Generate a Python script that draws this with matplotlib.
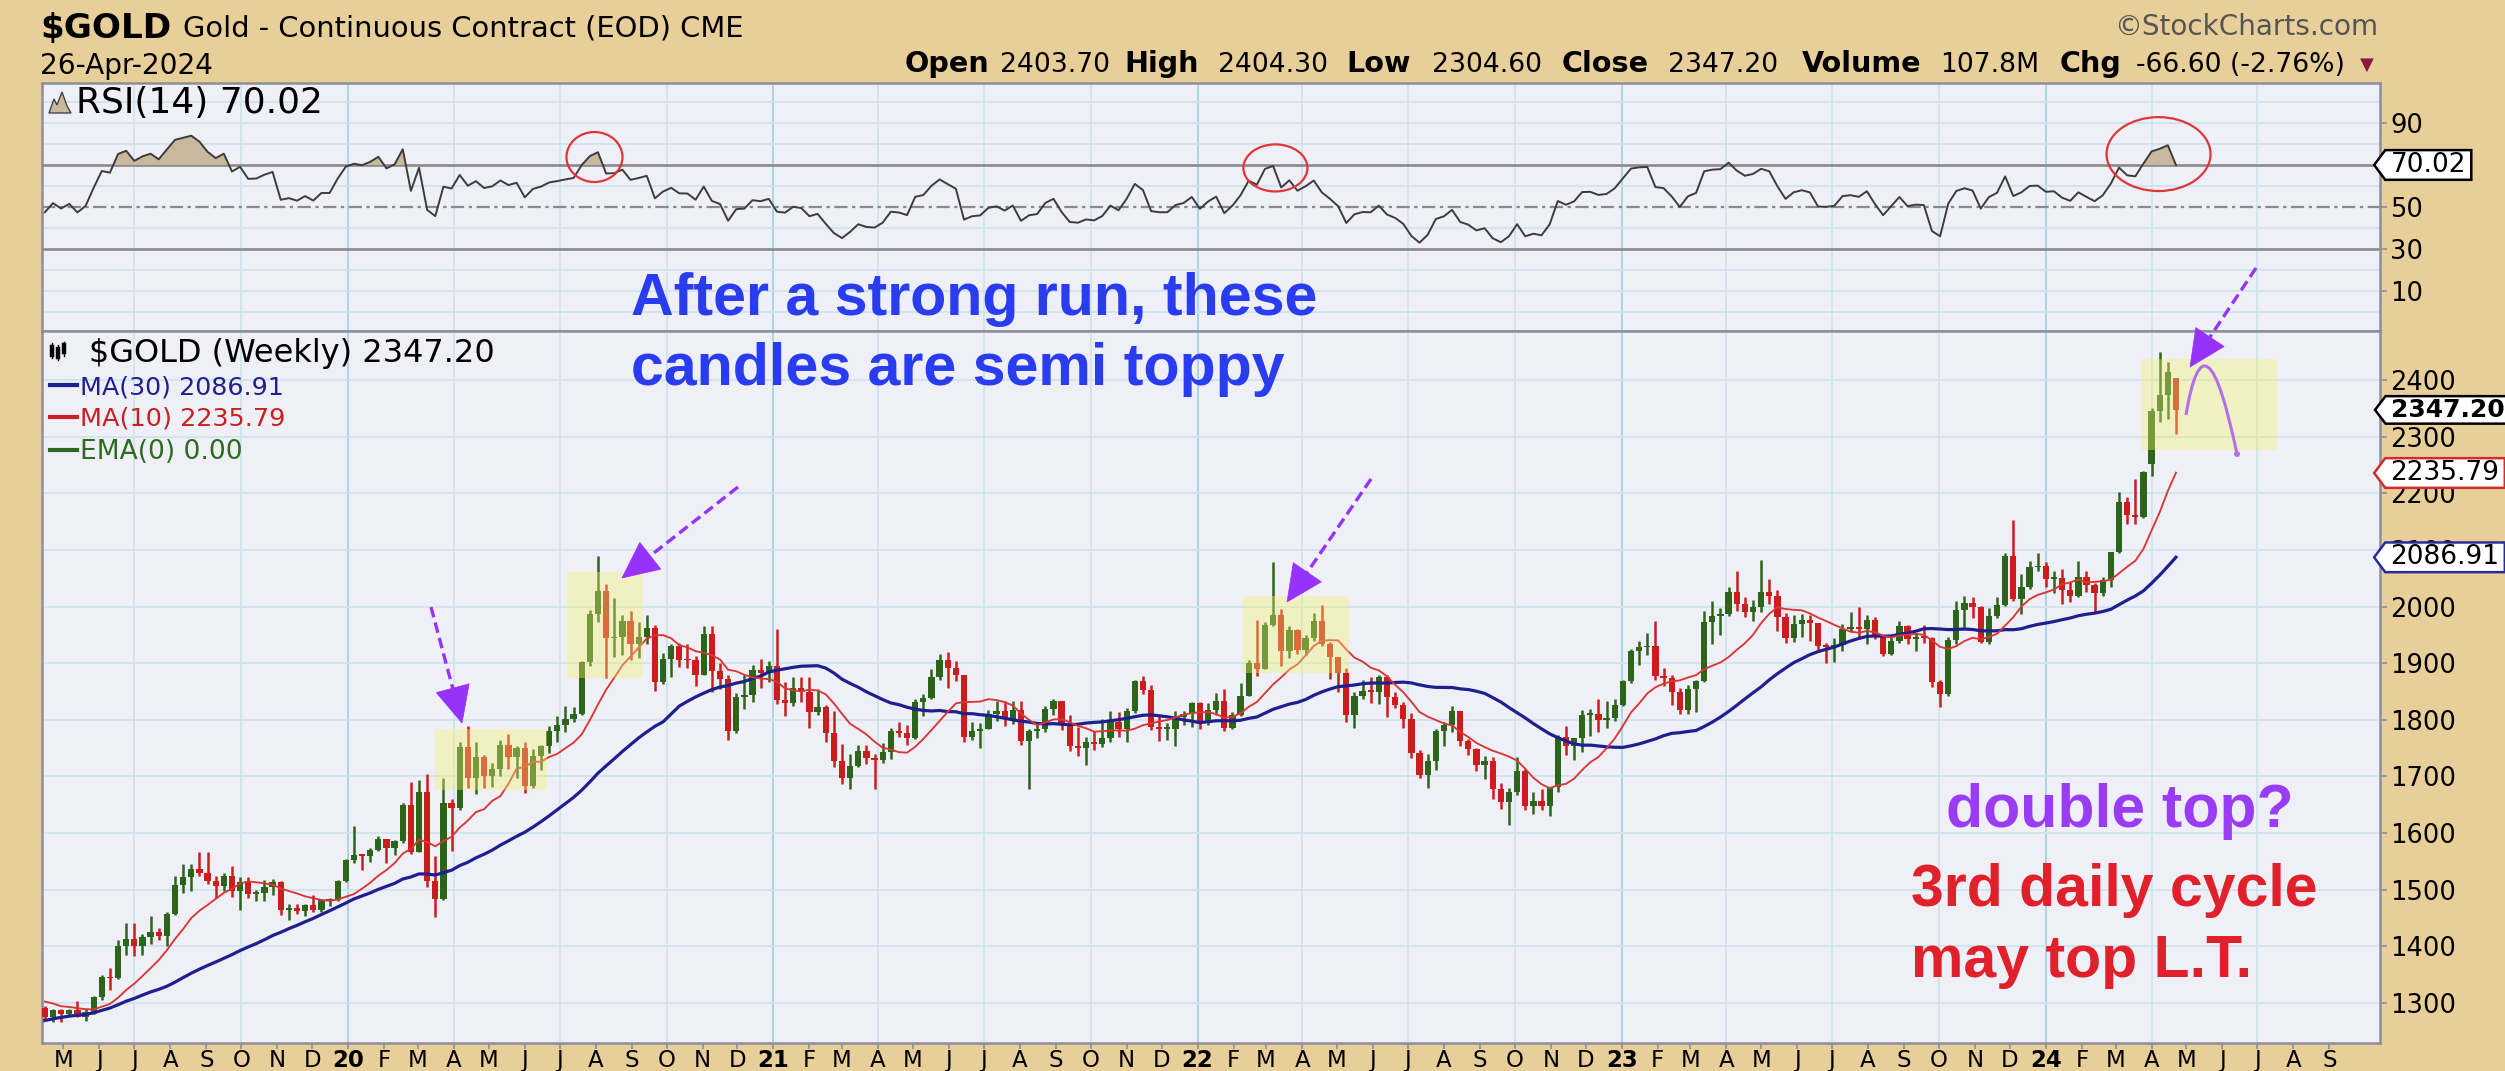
import numpy as np
import pandas as pd
import matplotlib
matplotlib.use("Agg")
import matplotlib.pyplot as plt
import matplotlib.dates as mdates
from matplotlib.patches import Rectangle, Ellipse, Polygon, PathPatch
from matplotlib.path import Path
from matplotlib.lines import Line2D

# ======================= DATA =======================
first_week = "2019-04-15"          # Monday of the first weekly bar
# closes of the 51 weeks before the first visible bar (only used to seed MA / RSI)
warmup_closes = [1323, 1315, 1320, 1291, 1303, 1298, 1302, 1278, 1270, 1254,
                 1255, 1241, 1231, 1223, 1219, 1219, 1184, 1213, 1206, 1200,
                 1201, 1201, 1196, 1207, 1222, 1229, 1236, 1234, 1210, 1223,
                 1224, 1226, 1252, 1241, 1258, 1283, 1294, 1290, 1282, 1304,
                 1318, 1318, 1322, 1330, 1299, 1298, 1302, 1315, 1298, 1295, 1291]

opens = [
    # 2019
    1291, 1276, 1288, 1281, 1287, 1276, 1284, 1311, 1346, 1344, 1400, 1413, 1400, 1416, 1426,
    1419, 1457, 1509, 1523, 1537, 1529, 1515, 1506, 1524, 1497, 1513, 1493, 1494, 1505, 1513,
    1464, 1468, 1463, 1473, 1465, 1481, 1481,
    # 2020
    1515, 1552, 1562, 1560, 1571, 1589, 1573, 1586, 1649, 1566, 1672, 1516, 1484, 1654, 1645,
    1752, 1698, 1735, 1700, 1713, 1756, 1735, 1751, 1683, 1737, 1753, 1781, 1790, 1801, 1810,
    1902, 1986, 2028, 1944, 1947, 1975, 1934, 1947, 1962, 1866, 1907, 1930, 1906, 1905, 1879,
    1951, 1887, 1872, 1781, 1840, 1843, 1888, 1883,
    # 2021
    1895, 1835, 1830, 1856, 1850, 1814, 1823, 1777, 1728, 1698, 1719, 1745, 1732, 1729, 1744,
    1780, 1777, 1768, 1831, 1838, 1876, 1905, 1892, 1879, 1769, 1781, 1784, 1810, 1815, 1801,
    1817, 1763, 1780, 1784, 1819, 1833, 1791, 1754, 1751, 1760, 1757, 1768, 1796, 1783, 1816,
    1868, 1852, 1788, 1784, 1784, 1805, 1811,
    # 2022
    1829, 1797, 1818, 1833, 1786, 1808, 1842, 1900, 1889, 1967, 1985, 1921, 1958, 1923, 1945,
    1974, 1934, 1911, 1883, 1808, 1842, 1851, 1850, 1875, 1840, 1826, 1801, 1742, 1703, 1727,
    1781, 1791, 1815, 1762, 1749, 1721, 1728, 1677, 1655, 1672, 1709, 1648, 1656, 1648, 1681,
    1769, 1754, 1768, 1809, 1810, 1800, 1804,
    # 2023
    1826, 1869, 1921, 1928, 1930, 1877, 1874, 1850, 1817, 1855, 1868, 1973, 1983, 1986, 2025,
    2004, 1990, 1999, 2025, 2019, 1981, 1944, 1969, 1977, 1971, 1930, 1929, 1932, 1961, 1964,
    1960, 1976, 1946, 1916, 1940, 1966, 1942, 1946, 1945, 1866, 1845, 1941, 1994, 2006, 1999,
    1937, 1984, 2003, 2089, 2014, 2034, 2069,
    # 2024
    2071, 2049, 2051, 2029, 2018, 2053, 2038, 2024, 2046, 2096, 2185, 2161, 2158, 2252, 2345,
    2374, 2403.7]

highs = [
    1295, 1290, 1290, 1290, 1304, 1289, 1312, 1349, 1361, 1411, 1442, 1442, 1421, 1453, 1433,
    1460, 1525, 1546, 1546, 1566, 1566, 1524, 1529, 1542, 1522, 1523, 1499, 1517, 1519, 1515,
    1475, 1475, 1475, 1490, 1484, 1486, 1518,
    1555, 1613, 1563, 1574, 1594, 1590, 1587, 1653, 1691, 1694, 1704, 1560, 1698, 1660, 1760,
    1789, 1760, 1738, 1723, 1765, 1775, 1754, 1760, 1748, 1756, 1789, 1807, 1825, 1822, 1904,
    1994, 2089, 2039, 2015, 1985, 1992, 1972, 1985, 1967, 1918, 1933, 1936, 1934, 1913, 1965,
    1966, 1900, 1880, 1848, 1880, 1897, 1907, 1903,
    1960, 1866, 1875, 1875, 1876, 1855, 1827, 1816, 1757, 1740, 1756, 1755, 1740, 1759, 1785,
    1797, 1790, 1837, 1846, 1890, 1916, 1919, 1903, 1879, 1796, 1795, 1818, 1834, 1833, 1833,
    1834, 1783, 1795, 1824, 1836, 1834, 1809, 1788, 1770, 1781, 1801, 1815, 1813, 1821, 1870,
    1877, 1862, 1809, 1794, 1815, 1815, 1831,
    1831, 1830, 1848, 1854, 1813, 1865, 1905, 1976, 1972, 2078, 1995, 1966, 1960, 1950, 1988,
    2003, 1938, 1911, 1892, 1850, 1870, 1876, 1879, 1880, 1849, 1832, 1812, 1747, 1739, 1784,
    1796, 1824, 1815, 1767, 1751, 1736, 1735, 1689, 1680, 1735, 1714, 1672, 1677, 1682, 1774,
    1789, 1768, 1818, 1819, 1836, 1833, 1837,
    1871, 1925, 1939, 1953, 1975, 1892, 1879, 1856, 1861, 1870, 1993, 2010, 1998, 2035, 2063,
    2016, 2011, 2082, 2048, 2029, 1989, 1985, 1986, 1985, 1971, 1935, 1945, 1970, 1990, 2000,
    1985, 1981, 1950, 1950, 1975, 1968, 1953, 1968, 1947, 1871, 1946, 2009, 2019, 2016, 2001,
    1997, 2017, 2095, 2152, 2057, 2080, 2094,
    2079, 2063, 2067, 2043, 2080, 2062, 2042, 2053, 2097, 2203, 2193, 2225, 2240, 2350, 2449,
    2431, 2404.3]

lows = [
    1272, 1266, 1267, 1278, 1275, 1269, 1280, 1305, 1323, 1342, 1385, 1383, 1385, 1405, 1412,
    1400, 1455, 1494, 1497, 1525, 1510, 1485, 1497, 1488, 1465, 1485, 1480, 1480, 1490, 1456,
    1446, 1458, 1454, 1460, 1460, 1472, 1480,
    1514, 1547, 1535, 1549, 1568, 1548, 1562, 1583, 1563, 1566, 1505, 1451, 1482, 1568, 1640,
    1680, 1669, 1680, 1682, 1701, 1714, 1698, 1671, 1680, 1711, 1741, 1761, 1779, 1796, 1808,
    1895, 1972, 1874, 1911, 1915, 1906, 1910, 1933, 1851, 1864, 1875, 1893, 1891, 1860, 1879,
    1850, 1855, 1764, 1777, 1819, 1832, 1856, 1866,
    1828, 1806, 1825, 1832, 1785, 1808, 1760, 1717, 1687, 1677, 1717, 1722, 1678, 1724, 1731,
    1770, 1756, 1766, 1807, 1836, 1870, 1856, 1869, 1761, 1765, 1751, 1783, 1798, 1789, 1792,
    1756, 1677, 1768, 1779, 1808, 1782, 1745, 1737, 1721, 1746, 1752, 1760, 1770, 1760, 1812,
    1845, 1782, 1762, 1765, 1753, 1790, 1788,
    1783, 1790, 1808, 1780, 1784, 1806, 1842, 1878, 1889, 1965, 1895, 1910, 1917, 1915, 1939,
    1931, 1872, 1850, 1797, 1786, 1836, 1829, 1828, 1805, 1820, 1785, 1732, 1697, 1680, 1711,
    1754, 1778, 1753, 1738, 1709, 1696, 1660, 1643, 1615, 1667, 1641, 1634, 1640, 1631, 1673,
    1738, 1729, 1744, 1771, 1778, 1785, 1798,
    1825, 1865, 1896, 1914, 1870, 1860, 1827, 1810, 1811, 1813, 1866, 1934, 1949, 1983, 1992,
    1981, 1975, 1990, 2005, 1956, 1936, 1938, 1946, 1939, 1919, 1900, 1902, 1922, 1955, 1943,
    1933, 1942, 1913, 1914, 1936, 1934, 1922, 1935, 1858, 1823, 1842, 1933, 1961, 1980, 1936,
    1933, 1979, 2001, 2010, 1987, 2031, 2062,
    2034, 2024, 2004, 2008, 2017, 2026, 1988, 2019, 2035, 2094, 2145, 2146, 2156, 2230, 2325,
    2331, 2304.6]

closes = [
    1276, 1288, 1281, 1287, 1276, 1284, 1311, 1346, 1344, 1400, 1413, 1400, 1416, 1426, 1419,
    1457, 1509, 1523, 1537, 1529, 1515, 1506, 1524, 1497, 1513, 1493, 1494, 1505, 1513, 1464,
    1468, 1463, 1473, 1465, 1481, 1481, 1515,
    1552, 1562, 1560, 1571, 1589, 1573, 1586, 1649, 1566, 1672, 1516, 1484, 1654, 1645, 1752,
    1698, 1735, 1700, 1713, 1756, 1735, 1751, 1683, 1737, 1753, 1781, 1790, 1801, 1810, 1902,
    1986, 2028, 1944, 1947, 1975, 1934, 1947, 1962, 1866, 1907, 1930, 1906, 1905, 1879, 1951,
    1887, 1872, 1781, 1840, 1843, 1888, 1883, 1895,
    1835, 1830, 1856, 1850, 1814, 1823, 1777, 1728, 1698, 1719, 1745, 1732, 1729, 1744, 1780,
    1777, 1768, 1831, 1838, 1876, 1905, 1892, 1879, 1769, 1781, 1784, 1810, 1815, 1801, 1817,
    1763, 1780, 1784, 1819, 1833, 1791, 1754, 1751, 1760, 1757, 1768, 1796, 1783, 1816, 1868,
    1852, 1788, 1784, 1784, 1805, 1811, 1829,
    1797, 1818, 1833, 1786, 1808, 1842, 1900, 1889, 1967, 1985, 1921, 1958, 1923, 1945, 1974,
    1934, 1911, 1883, 1808, 1842, 1851, 1850, 1875, 1840, 1826, 1801, 1742, 1703, 1727, 1781,
    1791, 1815, 1762, 1749, 1721, 1728, 1677, 1655, 1672, 1709, 1648, 1656, 1648, 1681, 1769,
    1754, 1768, 1809, 1810, 1800, 1804, 1826,
    1869, 1921, 1928, 1930, 1877, 1874, 1850, 1817, 1855, 1868, 1973, 1983, 1986, 2025, 2004,
    1990, 1999, 2025, 2019, 1981, 1944, 1969, 1977, 1971, 1930, 1929, 1932, 1961, 1964, 1960,
    1976, 1946, 1916, 1940, 1966, 1942, 1946, 1945, 1866, 1845, 1941, 1994, 2006, 1999, 1937,
    1984, 2003, 2089, 2014, 2034, 2069, 2071,
    2049, 2051, 2029, 2018, 2053, 2038, 2024, 2046, 2096, 2185, 2161, 2158, 2238, 2345, 2374,
    2413.8, 2347.2]

volume_text = "107.8M"
ma_long, ma_short, rsi_period = 30, 10, 14
ma_long_label, ma_short_label, rsi_label = "2086.91", "2235.79", "70.02"
price_ticks = [1300, 1400, 1500, 1600, 1700, 1800, 1900, 2000, 2100, 2200, 2300, 2400]
rsi_ticks = [10, 30, 50, 70, 90]
month_letters = ["J", "F", "M", "A", "M", "J", "J", "A", "S", "O", "N", "D"]

# ======================= STYLE =======================
W, H = 2505, 1071
BG = "#E8CF99"; PANEL = "#EFF0F7"; GRID = "#CDE4EE"; GRID_YR = "#A8D0E4"; SPINE = "#8E8E98"
GREEN = "#2C6419"; RED = "#CC1D1D"; NAVY = "#1F1F8F"; MARED = "#D93636"; EMAGREEN = "#2E6B1E"
PURPLE = "#9632FA"; CIRCLE = "#E0363A"

fig = plt.figure(figsize=(W / 100, H / 100), dpi=100, facecolor=BG)
renderer = fig.canvas.get_renderer()
L_, R_ = 42, 2380
ax_r = fig.add_axes([L_ / W, 1 - 331 / H, (R_ - L_) / W, (331 - 83) / H])
ax = fig.add_axes([L_ / W, 1 - 1043 / H, (R_ - L_) / W, (1043 - 331) / H])

# ======================= INDICATORS =======================
dates = pd.date_range(first_week, periods=len(closes), freq="W-MON")
x = mdates.date2num(dates)
o, h, l, c = (np.asarray(v, float) for v in (opens, highs, lows, closes))
allc = pd.Series(list(warmup_closes) + list(closes), dtype=float)
n0 = len(warmup_closes)
ma30 = allc.rolling(ma_long).mean().to_numpy()[n0:]
ma10 = allc.rolling(ma_short).mean().to_numpy()[n0:]
dlt = allc.diff().fillna(0.0)
gain = dlt.clip(lower=0).ewm(alpha=1 / rsi_period, adjust=False).mean()
loss = (-dlt.clip(upper=0)).ewm(alpha=1 / rsi_period, adjust=False).mean()
rsi = (100 - 100 / (1 + gain / loss)).to_numpy()[n0:]

# ======================= AXES =======================
xl = (mdates.date2num(pd.Timestamp("2019-04-12 13:00")),
      mdates.date2num(pd.Timestamp("2024-10-14 14:00")))
quarters = pd.date_range("2019-07-01", "2024-07-01", freq="QS-JAN")
for a in (ax, ax_r):
    a.set_facecolor(PANEL)
    a.set_xlim(xl)
    for s in a.spines.values():
        s.set_color(SPINE); s.set_linewidth(1.8)
    for q in quarters:
        a.axvline(mdates.date2num(q), color=GRID_YR if q.month == 1 else GRID, lw=1.3, zorder=0)

ax.set_ylim(1229.4, 2486.5)
ax_r.set_ylim(-9.05, 109.05)
for v in price_ticks:
    ax.axhline(v, color=GRID, lw=1.3, zorder=0)
for v in range(0, 101, 10):
    if v not in (30, 50, 70):
        ax_r.axhline(v, color=GRID, lw=1.3, zorder=0)
ax_r.axhline(70, color="#8A8A8A", lw=1.9, zorder=1)
ax_r.axhline(30, color="#8A8A8A", lw=1.9, zorder=1)
ax_r.axhline(50, color="#8A8A8A", lw=1.6, dashes=(6, 2, 1.5, 2), zorder=1)

# ---- candles ----
cols = np.where(c >= o, GREEN, RED)
ax.vlines(x, l, h, colors=cols, lw=1.8, zorder=3)
ax.bar(x, np.maximum(np.abs(c - o), 2.5), bottom=np.minimum(o, c), width=5.4,
       color=cols, linewidth=0, zorder=4)
ax.plot(x, ma30, color=NAVY, lw=2.3, zorder=5)
ax.plot(x, ma10, color=MARED, lw=1.35, zorder=5)

# ---- RSI ----
ax_r.fill_between(x, rsi, 70, where=rsi >= 70, interpolate=True, color="#C9B99C", lw=0, zorder=2)
ax_r.plot(x, rsi, color="#3C3C3C", lw=1.4, zorder=3)

# ---- ticks ----
ax.set_yticks(price_ticks)
ax.yaxis.tick_right()
ax_r.set_yticks(rsi_ticks)
ax_r.set_yticklabels(["" if v == 70 else str(v) for v in rsi_ticks])   # 70 sits under the value tag
ax_r.yaxis.tick_right()
for a in (ax, ax_r):
    a.tick_params(axis="y", direction="out", length=5, width=1.2, color=SPINE, pad=2.5,
                  labelsize=18.5, left=False, right=True, labelleft=False, labelright=True)
    for t in a.get_yticklabels():
        t.set_family("DejaVu Sans")
months = pd.date_range("2019-05-01", "2024-09-01", freq="MS")
ax.set_xticks(mdates.date2num(months))
ax.set_xticklabels([f"{m.year % 100:02d}" if m.month == 1 else month_letters[m.month - 1]
                    for m in months])
for lab, m in zip(ax.get_xticklabels(), months):
    lab.set_family("DejaVu Sans")
    if m.month == 1:
        lab.set_fontweight("bold")
ax.tick_params(axis="x", direction="out", length=4, width=1.2, color=SPINE, pad=0.5, labelsize=16.5)
ax_r.tick_params(axis="x", bottom=False, labelbottom=False)


# ---- right-hand value tags ----
def tag_box(x0, y0, width, height, mutation_size):
    p = 0.2 * mutation_size
    lft, rgt = x0 - p, x0 + width + p
    bot, top = y0 - 0.35 * p, y0 + height + 0.35 * p
    tip = 0.42 * mutation_size
    return Path([(lft, bot), (rgt, bot), (rgt, top), (lft, top), (lft - tip, (bot + top) / 2),
                 (lft, bot)], closed=True)


def tag(a, val, txt, ec, bold=False, size=19):
    a.text(1.0045, val, txt, transform=a.get_yaxis_transform(), ha="left", va="center",
           fontsize=size, family="DejaVu Sans", weight="bold" if bold else "normal",
           color="black", zorder=30, clip_on=False,
           bbox=dict(boxstyle=tag_box, fc="white", ec=ec, lw=1.8))


tag(ax, c[-1], f"{c[-1]:.2f}", "black", bold=True, size=18)
tag(ax, float(ma_short_label), ma_short_label, "#D42A2A")
tag(ax, float(ma_long_label), ma_long_label, "#2A2A9A")
tag(ax_r, float(rsi_label), rsi_label, "black")

# ---- highlight boxes (annotations) ----
highlight_boxes = [("2020-03-16", "2020-06-20", 1676, 1784),
                   ("2020-07-07", "2020-09-11", 1874, 2061),
                   ("2022-02-09", "2022-05-11", 1883, 2019),
                   ("2024-03-23", "2024-07-18", 2276, 2437)]
for d0, d1, p0, p1 in highlight_boxes:
    x0, x1 = mdates.date2num(pd.Timestamp(d0)), mdates.date2num(pd.Timestamp(d1))
    ax.add_patch(Rectangle((x0, p0), x1 - x0, p1 - p0, fc="#F2F06E", alpha=0.38, ec="none", zorder=10))

rsi_circles = [("2020-07-31", 73.8, 48.2, 23.8),
               ("2022-03-09", 68.6, 55.1, 22.4),
               ("2024-04-07", 75.2, 89.5, 35.2)]
for d0, v, wd, ht in rsi_circles:
    ax_r.add_patch(Ellipse((mdates.date2num(pd.Timestamp(d0)), v), wd, ht, fill=False,
                           ec=CIRCLE, lw=1.6, zorder=8))


# ======================= FIGURE-LEVEL TEXT =======================
def F(px, py):
    return px / W, 1 - py / H


def text_width(s, size, **kw):
    t = fig.text(0, 0, s, fontsize=size, **kw)
    wd = t.get_window_extent(renderer).width
    t.remove()
    return wd


def put(px, py, s, width=None, size=20, **kw):
    kw.setdefault("ha", "left")
    kw.setdefault("va", "baseline")
    kw.setdefault("zorder", 40)
    t = fig.text(*F(px, py), s, fontsize=size, **kw)
    if width:
        t.set_fontsize(size * width / t.get_window_extent(renderer).width)
    return t


DJ = "DejaVu Sans"
LS = "Liberation Sans"
put(40, 38, "$GOLD", 131, family=DJ, weight="bold")
put(183, 37, "Gold - Continuous Contract (EOD) CME", 558, family=DJ)
bar_day = dates[-1] + pd.Timedelta(days=4)
put(40, 74, bar_day.strftime("%d-%b-%Y"), 173, family=DJ)
put(2114, 35, "\u00a9StockCharts.com", 264, family=DJ, color="#555555")

lab_size = 20 * 120 / text_width("Volume", 20, family=DJ, weight="bold")
val_size = 20 * 110 / text_width("2403.70", 20, family=DJ)
chg = c[-1] - c[-2]
pieces = [("Open", 905, True), (f"{o[-1]:.2f}", 1000, False),
          ("High", 1124, True), (f"{h[-1]:.2f}", 1218, False),
          ("Low", 1346, True), (f"{l[-1]:.2f}", 1432, False),
          ("Close", 1562, True), (f"{c[-1]:.2f}", 1668, False),
          ("Volume", 1802, True), (volume_text, 1940, False),
          ("Chg", 2060, True), (f"{chg:.2f} ({100 * chg / c[-2]:.2f}%)", 2136, False)]
for s, px, b in pieces:
    put(px, 72, s, size=lab_size if b else val_size, family=DJ,
        weight="bold" if b else "normal")
put(2360, 70, "\u25BC", size=13, family=DJ, color="#8B1A3A")

# legend (price panel)
put(89, 362, f"$GOLD (Weekly) {c[-1]:.2f}", 405, family=DJ)
for yy, s, col, wd in [(385, f"MA({ma_long}) {ma_long_label}", NAVY, 205),
                       (417, f"MA({ma_short}) {ma_short_label}", "#C82020", 205),
                       (450, "EMA(0) 0.00", EMAGREEN, 163)]:
    fig.add_artist(Line2D([50 / W, 77 / W], [1 - yy / H, 1 - yy / H], color=col, lw=3, zorder=40))
    put(80, yy + 9, s, wd, family=DJ, color=col)
# little candle icon
for k, (y0, y1, b0, b1) in enumerate([(343, 358, 347, 355), (345, 360, 349, 357), (342, 356, 345, 352)]):
    xx = (52 + 6 * k) / W
    fig.add_artist(Line2D([xx, xx], [1 - y0 / H, 1 - y1 / H], color="black", lw=1.0, zorder=40))
    fig.add_artist(Line2D([xx, xx], [1 - b0 / H, 1 - b1 / H], color="black", lw=3.2, zorder=40))

# legend (RSI panel)
put(76, 113, f"RSI({rsi_period}) {rsi_label}", 247, family=DJ)
mount = [(49, 113), (54, 99), (57, 105), (62, 92), (67, 106), (71, 113)]
fig.add_artist(Polygon([F(*p) for p in mount], closed=True, fc="#C9B99C", ec="#444444",
                       lw=1.0, zorder=40))

# big annotation texts
blue_size = 20 * 687 / text_width("After a strong run, these", 20, family=LS, weight="bold")
put(631, 315, "After a strong run, these", size=blue_size, family=LS, weight="bold", color="#2A3CF0")
put(631, 385, "candles are semi toppy", size=blue_size, family=LS, weight="bold", color="#2A3CF0")
put(1946, 827, "double top?", 347, family=LS, weight="bold", color="#9B3CF5")
red_size = 20 * 406 / text_width("3rd daily cycle", 20, family=LS, weight="bold")
put(1911, 906, "3rd daily cycle", size=red_size, family=LS, weight="bold", color="#E0202A")
put(1911, 977, "may top L.T.", size=red_size, family=LS, weight="bold", color="#E0202A")


# dashed arrows
def dashed_arrow(tail, tip):
    t0, t1 = np.asarray(tail, float), np.asarray(tip, float)
    u = (t1 - t0) / np.hypot(*(t1 - t0))
    n = np.array([-u[1], u[0]])
    base = t1 - 36 * u
    end = base + 3 * u
    fig.add_artist(Line2D([t0[0] / W, end[0] / W], [1 - t0[1] / H, 1 - end[1] / H],
                          color=PURPLE, lw=2.4, dashes=(3.2, 1.6), zorder=45))
    pts = [t1, base + 17 * n, base - 17 * n]
    fig.add_artist(Polygon([F(*p) for p in pts], closed=True, fc=PURPLE, ec=PURPLE, lw=0.5, zorder=45))


for tail, tip in [((431, 607), (462, 723)), ((738, 487), (622, 578)),
                  ((1371, 479), (1287, 602)), ((2256, 268), (2190, 367))]:
    dashed_arrow(tail, tip)

# projected arc
arc = Path([F(2186, 415), F(2205, 300), F(2237, 454)], [Path.MOVETO, Path.CURVE3, Path.CURVE3])
fig.add_artist(PathPatch(arc, transform=fig.transFigure, fc="none", ec="#B46FE6", lw=2.2, zorder=45))
fig.add_artist(Ellipse(F(2237, 454), 6 / W, 6 / H, transform=fig.transFigure, fc="#B46FE6",
                       ec="none", zorder=45))

fig.savefig("out.png", dpi=100, facecolor=fig.get_facecolor())
